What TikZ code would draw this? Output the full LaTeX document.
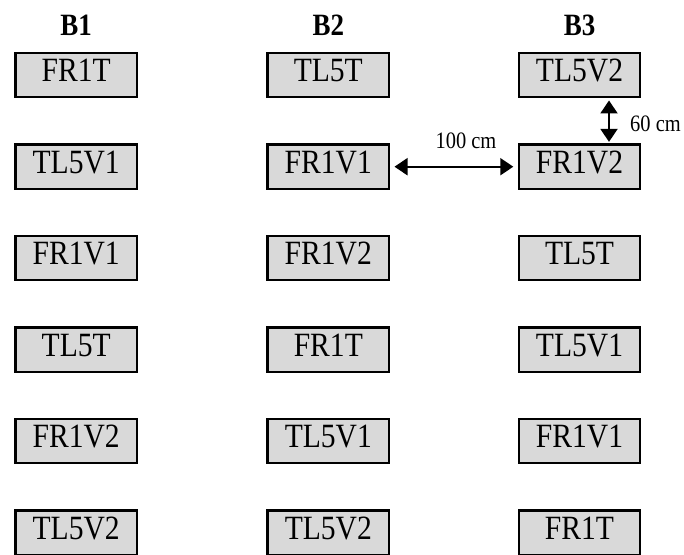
\documentclass[tikz,border=0pt]{standalone}
\usepackage{fontspec}
\setmainfont[FakeStretch=0.87]{Liberation Serif}
\usetikzlibrary{arrows.meta}
\definecolor{boxgray}{RGB}{217,217,217}
\begin{document}
\begin{tikzpicture}[x=1pt,y=-1pt,
  plot/.style={draw=black, fill=boxgray, line width=2.3pt, inner sep=0pt,
    minimum width=121.5pt, minimum height=44.2pt,
    text height=21pt, text depth=8pt,
    font=\fontsize{34}{40}\selectfont},
  blockhead/.style={inner sep=0pt, anchor=base,
    font=\fontsize{31}{36}\selectfont\bfseries},
  dimlabel/.style={inner sep=0pt, font=\fontsize{23.5}{28}\selectfont},
  dimarrow/.style={line width=2pt,
    {Triangle[length=13pt,width=17pt]}-{Triangle[length=13pt,width=17pt]}}]
\useasboundingbox (0,0) rectangle (684,554);

% block headings
\node[blockhead] (h1) at (76.2,35) {B1};
\node[blockhead] (h2) at (328.3,35) {B2};
\node[blockhead] (h3) at (579.5,35) {B3};

% plots, block by block (column) and row
\foreach \name/\lab [count=\r from 0] in
  {a1/FR1T, a2/TL5V1, a3/FR1V1, a4/TL5T, a5/FR1V2, a6/TL5V2}
  \node[plot] (\name) at (76.2,75.2+91.5*\r) {\lab};
\foreach \name/\lab [count=\r from 0] in
  {b1/TL5T, b2/FR1V1, b3/FR1V2, b4/FR1T, b5/TL5V1, b6/TL5V2}
  \node[plot] (\name) at (328.3,75.2+91.5*\r) {\lab};
\foreach \name/\lab [count=\r from 0] in
  {c1/TL5V2, c2/FR1V2, c3/TL5T, c4/TL5V1, c5/FR1V1, c6/FR1T}
  \node[plot] (\name) at (579.5,75.2+91.5*\r) {\lab};

% spacing between blocks
\draw[dimarrow, shorten <=4.3pt, shorten >=4.3pt] (b2.east) -- (c2.west);
\node[dimlabel, anchor=base] (dx) at (466,148.3) {100 cm};

% spacing between plots within a block
\coordinate (vx) at (609,0);
\draw[dimarrow, shorten <=2pt, shorten >=1.6pt] (c1.south -| vx) -- (c2.north -| vx);
\node[dimlabel, anchor=base west] (dy) at (630,131.7) {60 cm};
\end{tikzpicture}
\end{document}
